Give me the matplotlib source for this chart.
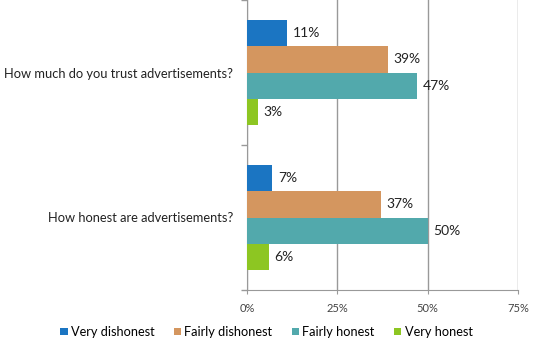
import numpy as np
import matplotlib
matplotlib.use("Agg")
import matplotlib.pyplot as plt

# ======================================================
# DATA
# ======================================================

questions = ["How much do you trust advertisements?", "How honest are advertisements?"]
series = ["Very dishonest", "Fairly dishonest", "Fairly honest", "Very honest"]
very_dishonest = [11, 7]
fairly_dishonest = [39, 37]
fairly_honest = [47, 50]
very_honest = [3, 6]
colors = ["#1B75C2", "#D4965F", "#52A9AC", "#8DC622"]
x_ticks = [0, 25, 50, 75]

plt.rcParams["font.family"] = ["Lato", "DejaVu Sans"]

# ======================================================
# PLOT
# ======================================================

fig = plt.figure(figsize=(5.33, 3.5), dpi=100)
ax = fig.add_axes([247 / 533, 1 - 290 / 350, 271 / 533, 290 / 350])

values = [very_dishonest, fairly_dishonest, fairly_honest, very_honest]
pos = np.arange(len(questions))
bar_h = 0.181

for i, (name, vals) in enumerate(zip(series, values)):
    y = pos + (i - 1.5) * bar_h
    ax.barh(y, vals, height=bar_h, color=colors[i], label=name, zorder=3)
    for yy, v in zip(y, vals):
        ax.text(v + 1.6, yy, f"{v}%", va="center", ha="left",
                fontsize=10, color="#222222", zorder=4)

ax.set_ylim(len(questions) - 0.5, -0.5)
ax.set_xlim(0, 75)

ax.set_yticks(pos)
ax.set_yticklabels(questions, fontsize=9.3, color="#222222")
ax.tick_params(axis="y", length=0, pad=10)
ax.set_yticks([-0.5, 0.5, 1.5], minor=True)
ax.tick_params(axis="y", which="minor", length=4, color="#999999", width=1)

ax.set_xticks(x_ticks)
ax.set_xticklabels([f"{t}%" for t in x_ticks], fontsize=8, color="#444444")
ax.tick_params(axis="x", length=3, color="#999999", pad=6)

ax.grid(True, axis="x", color="#999999", linewidth=1, zorder=0)
for s in ["top", "right"]:
    ax.spines[s].set_visible(False)
for s in ["left", "bottom"]:
    ax.spines[s].set_color("#999999")

fig.legend(loc="center", bbox_to_anchor=(0.5, 1 - 332 / 350), ncol=4,
           frameon=False, fontsize=9.2, handlelength=0.55, handleheight=0.55,
           handletextpad=0.25, columnspacing=1.55)

fig.savefig("out.png", dpi=100)
